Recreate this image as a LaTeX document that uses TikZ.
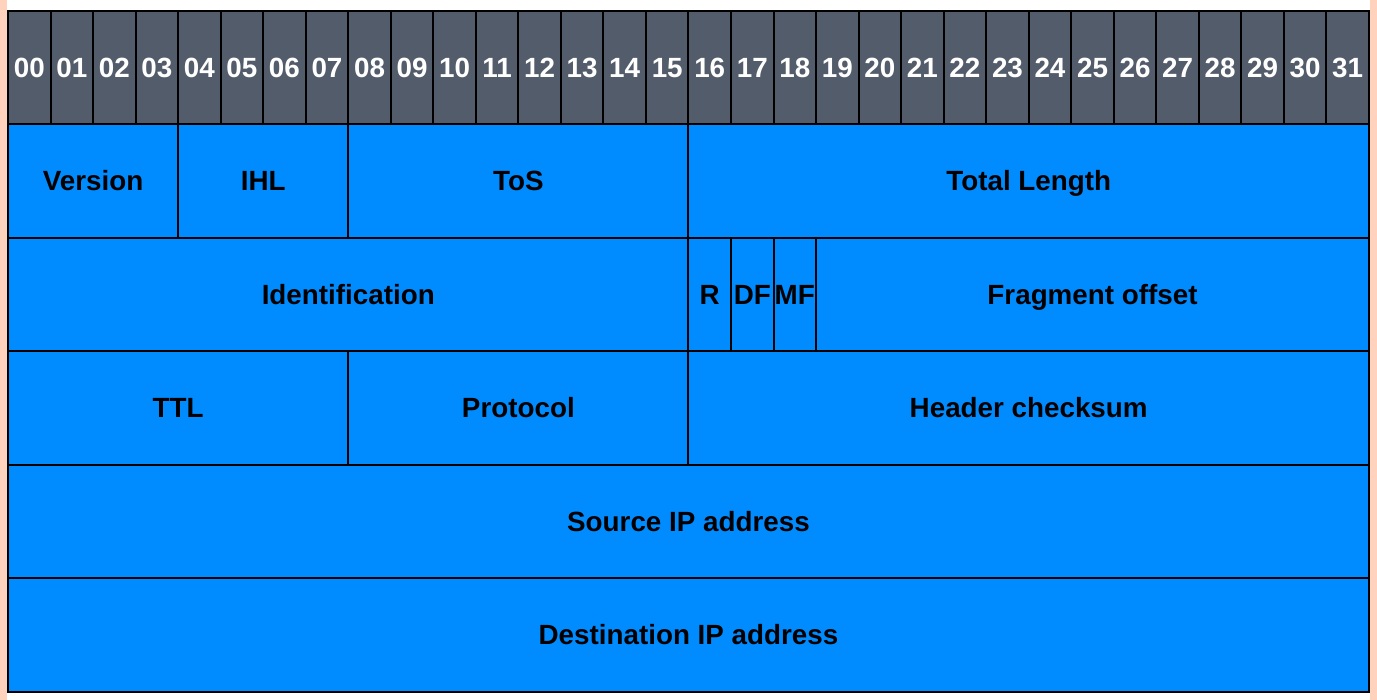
\documentclass[tikz,border=0pt]{standalone}
\usepackage{fontspec}
\setmainfont{Liberation Sans}
\definecolor{hdrgray}{HTML}{535C6A}
\definecolor{fieldblue}{HTML}{008CFF}
\definecolor{edgesalmon}{HTML}{FFD2BE}
\tikzset{
  hdr/.style={fill=hdrgray, draw=black, line width=1pt},
  fld/.style={fill=fieldblue, draw=black, line width=1pt},
  lbl/.style={font=\bfseries\fontsize{13.9}{16}\selectfont, inner sep=0pt, text height=1.38ex, text depth=0pt, yshift=-1pt}
}
\begin{document}
\begin{tikzpicture}[x=21.265pt, y=-56.75pt]
\useasboundingbox (-0.1881,-0.0969) rectangle (32.189,6.0705);
% side strips
\fill[edgesalmon] (-0.1881,-0.0969) rectangle (-0.0235,6.0705);
\fill[edgesalmon] (32.0245,-0.0969) rectangle (32.189,6.0705);
% bit numbers
\foreach \i in {0,...,31}
  \draw[hdr] (\i,0) rectangle +(1,1) node[midway, lbl, text=white] (b\i) {\ifnum\i<10 0\fi\i};
% row 1
\draw[fld] (0,1) rectangle (4,2) node[midway, lbl] (version) {Version};
\draw[fld] (4,1) rectangle (8,2) node[midway, lbl] (ihl) {IHL};
\draw[fld] (8,1) rectangle (16,2) node[midway, lbl] (tos) {ToS};
\draw[fld] (16,1) rectangle (32,2) node[midway, lbl] (totlen) {Total Length};
% row 2
\draw[fld] (0,2) rectangle (16,3) node[midway, lbl] (ident) {Identification};
\draw[fld] (16,2) rectangle (17,3) node[midway, lbl] (rbit) {R};
\draw[fld] (17,2) rectangle (18,3) node[midway, lbl] (df) {DF};
\draw[fld] (18,2) rectangle (19,3) node[midway, lbl] (mf) {MF};
\draw[fld] (19,2) rectangle (32,3) node[midway, lbl] (fragoff) {Fragment offset};
% row 3
\draw[fld] (0,3) rectangle (8,4) node[midway, lbl] (ttl) {TTL};
\draw[fld] (8,3) rectangle (16,4) node[midway, lbl] (proto) {Protocol};
\draw[fld] (16,3) rectangle (32,4) node[midway, lbl] (chksum) {Header checksum};
% rows 4, 5
\draw[fld] (0,4) rectangle (32,5) node[midway, lbl] (srcip) {Source IP address};
\draw[fld] (0,5) rectangle (32,6) node[midway, lbl] (dstip) {Destination IP address};
\end{tikzpicture}
\end{document}
